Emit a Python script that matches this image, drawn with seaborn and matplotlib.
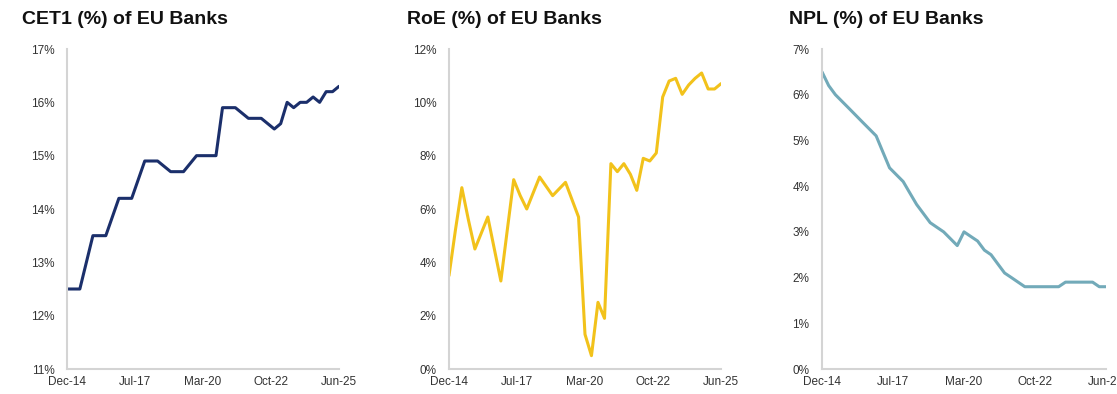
import numpy as np
import pandas as pd
import matplotlib
matplotlib.use("Agg")
import matplotlib.pyplot as plt
import seaborn as sns

# quarterly data, Dec-14 .. Jun-25
quarters = pd.date_range("2014-12-31", periods=43, freq="QE")

cet1 = [12.5, 12.5, 12.5, 13.0, 13.5, 13.5, 13.5, 13.85, 14.2, 14.2,
        14.2, 14.55, 14.9, 14.9, 14.9, 14.8, 14.7, 14.7, 14.7, 14.85,
        15.0, 15.0, 15.0, 15.0, 15.9, 15.9, 15.9, 15.8, 15.7, 15.7,
        15.7, 15.6, 15.5, 15.6, 16.0, 15.9, 16.0, 16.0, 16.1, 16.0,
        16.2, 16.2, 16.3]

roe = [3.5, 5.2, 6.8, 5.6, 4.5, 5.1, 5.7, 4.5, 3.3, 5.2,
       7.1, 6.5, 6.0, 6.6, 7.2, 6.85, 6.5, 6.75, 7.0, 6.35,
       5.7, 1.3, 0.5, 2.5, 1.9, 7.7, 7.4, 7.7, 7.3, 6.7,
       7.9, 7.8, 8.1, 10.2, 10.8, 10.9, 10.3, 10.65, 10.9, 11.1,
       10.5, 10.5, 10.7]

npl = [6.5, 6.2, 6.0, 5.85, 5.7, 5.55, 5.4, 5.25, 5.1, 4.75,
       4.4, 4.25, 4.1, 3.85, 3.6, 3.4, 3.2, 3.1, 3.0, 2.85,
       2.7, 3.0, 2.9, 2.8, 2.6, 2.5, 2.3, 2.1, 2.0, 1.9,
       1.8, 1.8, 1.8, 1.8, 1.8, 1.8, 1.9, 1.9, 1.9, 1.9,
       1.9, 1.8, 1.8]

tick_labels = ["Dec-14", "Jul-17", "Mar-20", "Oct-22", "Jun-25"]

df = pd.DataFrame({"date": quarters, "CET1": cet1, "RoE": roe, "NPL": npl})

sns.set_theme(style="white")
plt.rcParams["font.family"] = ["Liberation Sans", "DejaVu Sans"]

fig = plt.figure(figsize=(11.17, 3.94), dpi=100)

panels = [
    # column, title, colour, ylim, yticks, axes rect, title x
    ("CET1", "CET1 (%) of EU Banks", "#1b2f6b", (11, 17), range(11, 18),
     [67 / 1117, 25 / 394, 272 / 1117, 320 / 394], 22 / 1117),
    ("RoE", "RoE (%) of EU Banks", "#f2c21b", (0, 12), range(0, 13, 2),
     [449 / 1117, 25 / 394, 272 / 1117, 320 / 394], 407 / 1117),
    ("NPL", "NPL (%) of EU Banks", "#72aab9", (0, 7), range(0, 8),
     [822 / 1117, 25 / 394, 284 / 1117, 320 / 394], 789 / 1117),
]

tick_pos = pd.to_datetime(np.linspace(quarters[0].value, quarters[-1].value, 5))

for col, title, color, ylim, yticks, rect, tx in panels:
    ax = fig.add_axes(rect)
    sns.lineplot(data=df, x="date", y=col, color=color, linewidth=2.2, ax=ax)
    ax.set_xlim(quarters[0], quarters[-1])
    ax.set_ylim(*ylim)
    ax.set_yticks(list(yticks))
    ax.set_yticklabels([f"{v}%" for v in yticks])
    ax.set_xticks(tick_pos)
    ax.set_xticklabels(tick_labels)
    ax.set_xlabel("")
    ax.set_ylabel("")
    ax.tick_params(axis="both", length=0, labelsize=8.5, labelcolor="#333333")
    ax.tick_params(axis="y", pad=9)
    ax.tick_params(axis="x", pad=5)
    for s in ["top", "right"]:
        ax.spines[s].set_visible(False)
    for s in ["left", "bottom"]:
        ax.spines[s].set_color("#d4d4d4")
        ax.spines[s].set_linewidth(1.5)
    fig.text(tx, 1 - 20 / 394, title, fontsize=14, fontweight="bold",
             color="#111111", ha="left", va="center")

fig.savefig("out.png", dpi=100, facecolor="white")
